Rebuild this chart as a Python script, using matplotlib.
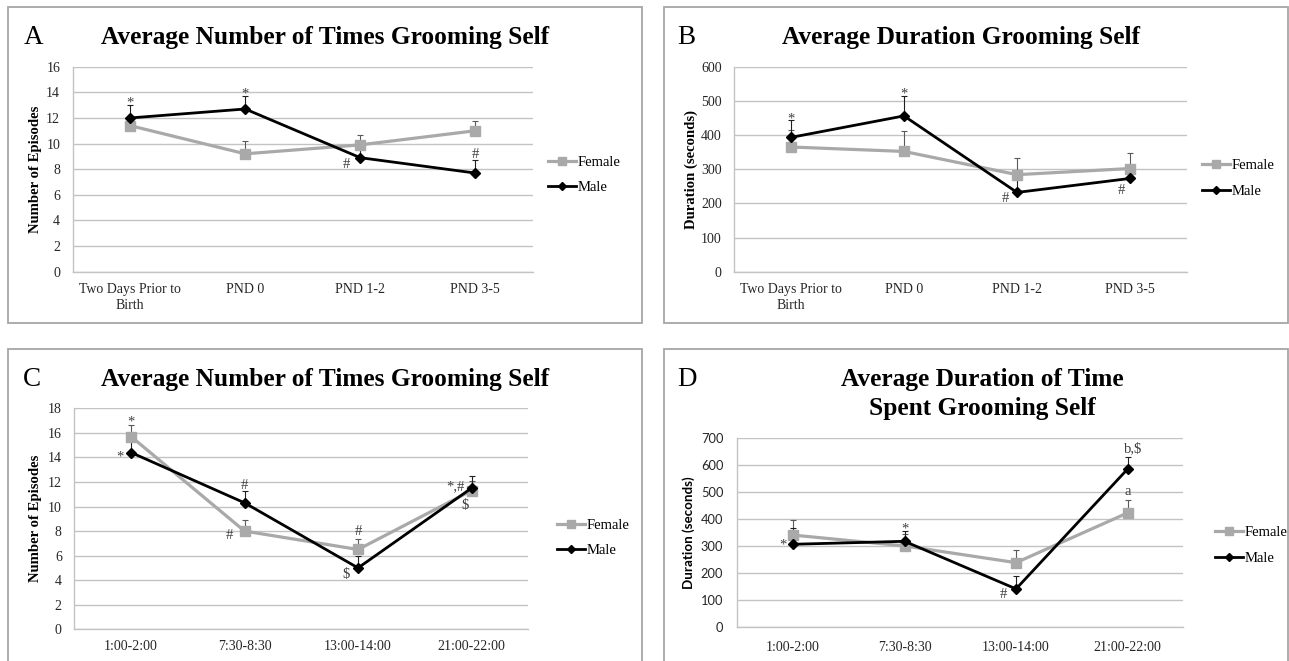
import numpy as np
import matplotlib
matplotlib.use("Agg")
import matplotlib.pyplot as plt
from matplotlib.patches import Rectangle
from matplotlib.lines import Line2D

# ---- data -------------------------------------------------------------
birth_cats = ["Two Days Prior to\nBirth", "PND 0", "PND 1-2", "PND 3-5"]
time_cats = ["1:00-2:00", "7:30-8:30", "13:00-14:00", "21:00-22:00"]

a_female = [11.4, 9.2, 9.9, 11.0]
a_female_err = [0.5, 1.0, 0.8, 0.8]
a_male = [12.0, 12.7, 8.9, 7.7]
a_male_err = [1.0, 1.0, 0.9, 1.0]

b_female = [365, 352, 284, 302]
b_female_err = [50, 61, 50, 46]
b_male = [393, 456, 232, 273]
b_male_err = [50, 58, 55, 30]

c_female = [15.7, 8.0, 6.5, 11.3]
c_female_err = [0.95, 0.9, 0.85, 0.8]
c_male = [14.4, 10.3, 5.0, 11.5]
c_male_err = [1.0, 1.0, 1.0, 1.0]

d_female = [341, 301, 239, 423]
d_female_err = [56, 44, 48, 46]
d_male = [307, 318, 142, 585]
d_male_err = [59, 38, 47, 46]

# significance marks: (text, category index, offset, value)
a_marks = [("*", 0, 0.0, 13.5), ("*", 1, 0.0, 14.2), ("#", 2, -0.12, 8.5), ("#", 3, 0.0, 9.3)]
b_marks = [("*", 0, 0.0, 459), ("*", 1, 0.0, 532), ("#", 2, -0.1, 219), ("#", 3, -0.075, 241)]
c_marks = [("*", 0, 0.0, 17.2), ("*", 0, -0.1, 14.4), ("#", 1, 0.0, 11.8), ("#", 1, -0.13, 7.74),
           ("#", 2, 0.0, 8.1), ("$", 2, -0.11, 4.6), ("*,#", 3, -0.14, 11.8), ("$", 3, -0.06, 10.2)]
d_marks = [("*", 0, -0.09, 319), ("*", 1, 0.0, 380), ("#", 2, -0.11, 126), ("a", 3, 0.0, 504),
           ("b,$", 3, 0.05, 668)]

# ---- style ------------------------------------------------------------
W, H = 1289, 661
SERIF = "Liberation Serif"
SANS = "Lato"
FEM_C = "#A9A9A9"
GRID_C = "#C3C3C3"
FRAME_C = "#A6A6A6"
TXT_C = "#262626"
MARK_C = "#404040"
MARK_FS = 10.5
TITLE_FS = 18.3
# visual centre height of each mark glyph above its baseline (fraction of em)
GLYPH_MID = {"*": 0.52, "#": 0.34, "$": 0.34, "a": 0.24, "*,#": 0.42, "b,$": 0.36}

fig = plt.figure(figsize=(W / 100, H / 100), dpi=100)
fig.patch.set_facecolor("white")


def fx(x):
    return x / W


def fy(y):
    return 1 - y / H


def frame(x0, y0, x1, y1):
    fig.add_artist(Rectangle((fx(x0), fy(y1)), fx(x1 - x0), (y1 - y0) / H,
                             transform=fig.transFigure, facecolor="white",
                             edgecolor=FRAME_C, lw=1.3, zorder=-5))


def px_axes(x0, y0, x1, y1):
    return fig.add_axes([fx(x0), fy(y1), fx(x1 - x0), (y1 - y0) / H])


def panel(ax, cats, fem, fem_err, male, male_err, ymax, step, marks,
          ylabel, ylabel_font, ytick_font, ytick_fs, ylabel_fs, ylabel_pad, ytick_pad,
          xtick_pad=8):
    x = np.arange(len(cats))
    ax.set_xlim(-0.5, len(cats) - 0.5)
    ax.set_ylim(0, ymax)
    ax.set_yticks(np.arange(0, ymax + step / 2, step))
    ax.set_xticks(x)
    ax.set_xticklabels(cats, fontfamily=SERIF, fontsize=10, color=TXT_C, linespacing=1.3)
    for lab in ax.get_yticklabels():
        lab.set_fontfamily(ytick_font)
        lab.set_fontsize(ytick_fs)
        lab.set_color(TXT_C)
    ax.tick_params(axis="both", length=0)
    ax.tick_params(axis="x", pad=xtick_pad)
    ax.tick_params(axis="y", pad=ytick_pad)
    ax.yaxis.grid(True, color=GRID_C, lw=1.0)
    ax.set_axisbelow(True)
    for s in ("top", "right"):
        ax.spines[s].set_visible(False)
    for s in ("left", "bottom"):
        ax.spines[s].set_color(GRID_C)
        ax.spines[s].set_linewidth(1.0)
    ax.set_ylabel(ylabel, fontfamily=ylabel_font, fontweight="bold", fontsize=ylabel_fs,
                  color="black", labelpad=ylabel_pad)

    zeros = np.zeros(len(cats))
    ax.errorbar(x, fem, yerr=[zeros, fem_err], fmt="none", ecolor="#5A5A5A",
                elinewidth=0.8, capsize=2.3, capthick=0.8, zorder=2)
    ax.errorbar(x, male, yerr=[zeros, male_err], fmt="none", ecolor="#202020",
                elinewidth=0.8, capsize=2.3, capthick=0.8, zorder=2)
    ax.plot(x, fem, color=FEM_C, lw=2.3, marker="s", ms=7.8, mec=FEM_C, mfc=FEM_C, zorder=3)
    ax.plot(x, male, color="black", lw=2.0, marker="D", ms=5.2, zorder=4)

    for txt, i, off, val in marks:
        ax.annotate(txt, (i + off, val), xytext=(0, -GLYPH_MID[txt] * MARK_FS),
                    textcoords="offset points", ha="center", va="baseline",
                    fontfamily=SERIF, fontsize=MARK_FS, color=MARK_C, zorder=5)


def legend(ax, x_px, yc_px):
    handles = [Line2D([], [], color=FEM_C, lw=2.3, marker="s", ms=6, mec=FEM_C),
               Line2D([], [], color="black", lw=2.0, marker="D", ms=4)]
    ax.legend(handles, ["Female", "Male"], loc="center left",
              bbox_to_anchor=(fx(x_px), fy(yc_px)), bbox_transform=fig.transFigure,
              frameon=False, borderpad=0, borderaxespad=0, handlelength=1.95,
              handletextpad=0.1, labelspacing=0.85,
              prop={"family": SERIF, "size": 10.5})


def heading(letter, title, x_letter, y_letter, x_title, y_title, linespacing=1.0):
    fig.text(fx(x_letter), fy(y_letter), letter, fontfamily=SERIF, fontsize=19.5,
             ha="left", va="baseline", color="black")
    fig.text(fx(x_title), fy(y_title), title, fontfamily=SERIF, fontsize=TITLE_FS,
             fontweight="bold", ha="center", va="baseline", color="black",
             linespacing=linespacing)


# ---- panel frames -----------------------------------------------------
frame(8.3, 7.3, 641.7, 322.7)
frame(663.7, 7.3, 1287.5, 322.7)
frame(8.3, 349, 641.7, 675)
frame(663.7, 349, 1287.5, 675)

# ---- A ----------------------------------------------------------------
ax_a = px_axes(72.7, 66.7, 532.7, 271.7)
panel(ax_a, birth_cats, a_female, a_female_err, a_male, a_male_err, 16, 2, a_marks,
      "Number of Episodes", SERIF, SERIF, 10, 10.6, 3, 9)
legend(ax_a, 548, 175)
heading("A", "Average Number of Times Grooming Self", 24, 44, 325, 44)

# ---- B ----------------------------------------------------------------
ax_b = px_axes(734.3, 66.7, 1186.7, 271.7)
panel(ax_b, birth_cats, b_female, b_female_err, b_male, b_male_err, 600, 100, b_marks,
      "Duration (seconds)", SERIF, SERIF, 10, 10.6, 2, 9)
legend(ax_b, 1202, 178.5)
heading("B", "Average Duration Grooming Self", 677.5, 44, 961, 44)

# ---- C ----------------------------------------------------------------
ax_c = px_axes(74.3, 408.3, 528.3, 629.3)
panel(ax_c, time_cats, c_female, c_female_err, c_male, c_male_err, 18, 2, c_marks,
      "Number of Episodes", SERIF, SERIF, 10, 10.6, 4, 9)
legend(ax_c, 557, 537.9)
heading("C", "Average Number of Times Grooming Self", 23, 385.7, 325.5, 385.7)

# ---- D ----------------------------------------------------------------
ax_d = px_axes(737.3, 438, 1183.3, 627.3)
panel(ax_d, time_cats, d_female, d_female_err, d_male, d_male_err, 700, 100, d_marks,
      "Duration (seconds)", SANS, SANS, 9.3, 9.6, 4, 10, xtick_pad=10)
legend(ax_d, 1214.6, 545.5)
heading("D", "Average Duration of Time\nSpent Grooming Self", 677.5, 385.7, 982.5, 415.5,
        linespacing=1.36)

fig.savefig("out.png", dpi=100, facecolor="white")
